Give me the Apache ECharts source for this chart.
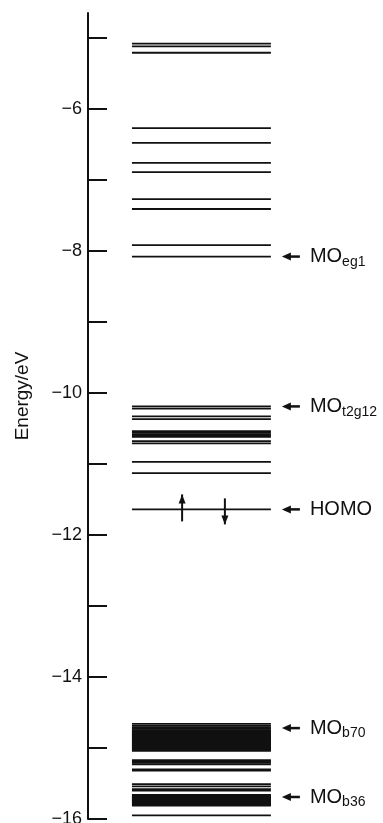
<!DOCTYPE html>
<html>
<head>
<meta charset="utf-8">
<script src="https://cdn.jsdelivr.net/npm/echarts@6/dist/echarts.min.js"></script>
<style>
  html, body { margin: 0; padding: 0; background: #fff; }
  #main { width: 383px; height: 823px; }
</style>
</head>
<body>
<div id="main"></div>
<script>
// MO energy levels (eV)
var levels = [
  -5.08, -5.12, -5.21,
  -6.27, -6.48, -6.76, -6.89, -7.27, -7.41, -7.92, -8.08,
  -10.19, -10.22, -10.33, -10.37, -10.54, -10.56, -10.58, -10.60, -10.62,
  -10.68, -10.71, -10.97, -11.13,
  -11.64,
  -14.66, -14.69, -14.71, -14.73,
  -14.75, -14.76, -14.77, -14.78, -14.79, -14.80, -14.81, -14.82, -14.83,
  -14.84, -14.85, -14.86, -14.87, -14.88, -14.89, -14.90, -14.91, -14.92,
  -14.93, -14.94, -14.95, -14.96, -14.97, -14.98, -14.99, -15.00, -15.01,
  -15.02, -15.03, -15.04,
  -15.17, -15.19, -15.21, -15.23, -15.30, -15.32,
  -15.51, -15.54, -15.58, -15.60,
  -15.66, -15.67, -15.68, -15.69, -15.70, -15.71, -15.72, -15.73, -15.74,
  -15.75, -15.76, -15.77, -15.78, -15.79, -15.80, -15.81,
  -15.95
];

// labelled levels: energy, name, subscript
var marks = [
  [-8.08, 'MO', 'eg1'],
  [-10.19, 'MO', 't2g12'],
  [-11.64, 'HOMO', ''],
  [-14.72, 'MO', 'b70'],
  [-15.69, 'MO', 'b36']
];

var homo = -11.64;
var spins = [[0.319, 'up'], [0.464, 'down']];

var yTicks = [-16, -15, -14, -13, -12, -11, -10, -9, -8, -7, -6, -5];
var yLabels = [-16, -14, -12, -10, -8, -6];

var LEFT = 0.149, RIGHT = 0.62;
var ink = '#111';

var myChart = echarts.init(document.getElementById('main'));

var option = {
  animation: false,
  grid: { left: 88, right: 0, top: 13, bottom: 4, outerBoundsMode: 'none' },
  xAxis: { type: 'value', min: 0, max: 1, show: false },
  yAxis: {
    type: 'value',
    min: -16,
    max: -4.65,
    name: 'Energy/eV',
    nameLocation: 'middle',
    nameRotate: 90,
    nameGap: 56,
    nameTextStyle: { fontSize: 19, color: ink, fontFamily: 'Liberation Sans', padding: [0, 0, 0, 40] },
    axisLine: { show: true, lineStyle: { color: ink, width: 2 } },
    axisTick: { show: true, inside: true, length: 19, lineStyle: { color: ink, width: 2 }, customValues: yTicks },
    axisLabel: {
      customValues: yLabels,
      margin: 6,
      fontSize: 18,
      color: ink,
      fontFamily: 'Liberation Sans',
      formatter: function (v) { return '\u2212' + Math.abs(v); }
    },
    splitLine: { show: false }
  },
  series: [
    {
      type: 'custom',
      encode: { y: 0 },
      data: levels.map(function (e) { return [e]; }),
      renderItem: function (params, api) {
        var e = api.value(0);
        var a = api.coord([LEFT, e]);
        var b = api.coord([RIGHT, e]);
        return {
          type: 'line',
          shape: { x1: a[0], y1: a[1], x2: b[0], y2: b[1] },
          style: { stroke: ink, lineWidth: 1.8 }
        };
      }
    },
    {
      type: 'custom',
      encode: { y: 0 },
      data: marks,
      renderItem: function (params, api) {
        var m = marks[params.dataIndex];
        var p = api.coord([RIGHT, m[0]]);
        var x = p[0] + 11, y = p[1];
        var txt = m[2] ? '{m|' + m[1] + '}{s|' + m[2] + '}' : '{m|' + m[1] + '}';
        return {
          type: 'group',
          children: [
            { type: 'polygon', shape: { points: [[x, y], [x + 9, y - 4], [x + 9, y + 4]] }, style: { fill: ink } },
            { type: 'line', shape: { x1: x + 8, y1: y, x2: x + 18, y2: y }, style: { stroke: ink, lineWidth: 2.5 } },
            {
              type: 'text',
              x: x + 28, y: y,
              style: {
                text: txt,
                verticalAlign: 'middle',
                rich: {
                  m: { fontSize: 20, fontFamily: 'Liberation Sans', fill: ink, lineHeight: 22 },
                  s: { fontSize: 14, fontFamily: 'Liberation Sans', fill: ink, lineHeight: 22, padding: [11, 0, 0, 0] }
                }
              }
            }
          ]
        };
      }
    },
    {
      type: 'custom',
      encode: { y: 0 },
      data: spins.map(function (s) { return [homo]; }),
      renderItem: function (params, api) {
        var s = spins[params.dataIndex];
        var p = api.coord([s[0], homo]);
        var x = p[0], y = p[1];
        var up = s[1] === 'up';
        var top = up ? y - 15 : y - 11;
        var bot = up ? y + 12 : y + 15;
        var head = up
          ? [[x, top], [x - 3.5, top + 9], [x + 3.5, top + 9]]
          : [[x, bot], [x - 3.5, bot - 9], [x + 3.5, bot - 9]];
        return {
          type: 'group',
          children: [
            { type: 'line', shape: { x1: x, y1: top, x2: x, y2: bot }, style: { stroke: ink, lineWidth: 2 } },
            { type: 'polygon', shape: { points: head }, style: { fill: ink } }
          ]
        };
      }
    }
  ]
};

myChart.setOption(option);
</script>
</body>
</html>
